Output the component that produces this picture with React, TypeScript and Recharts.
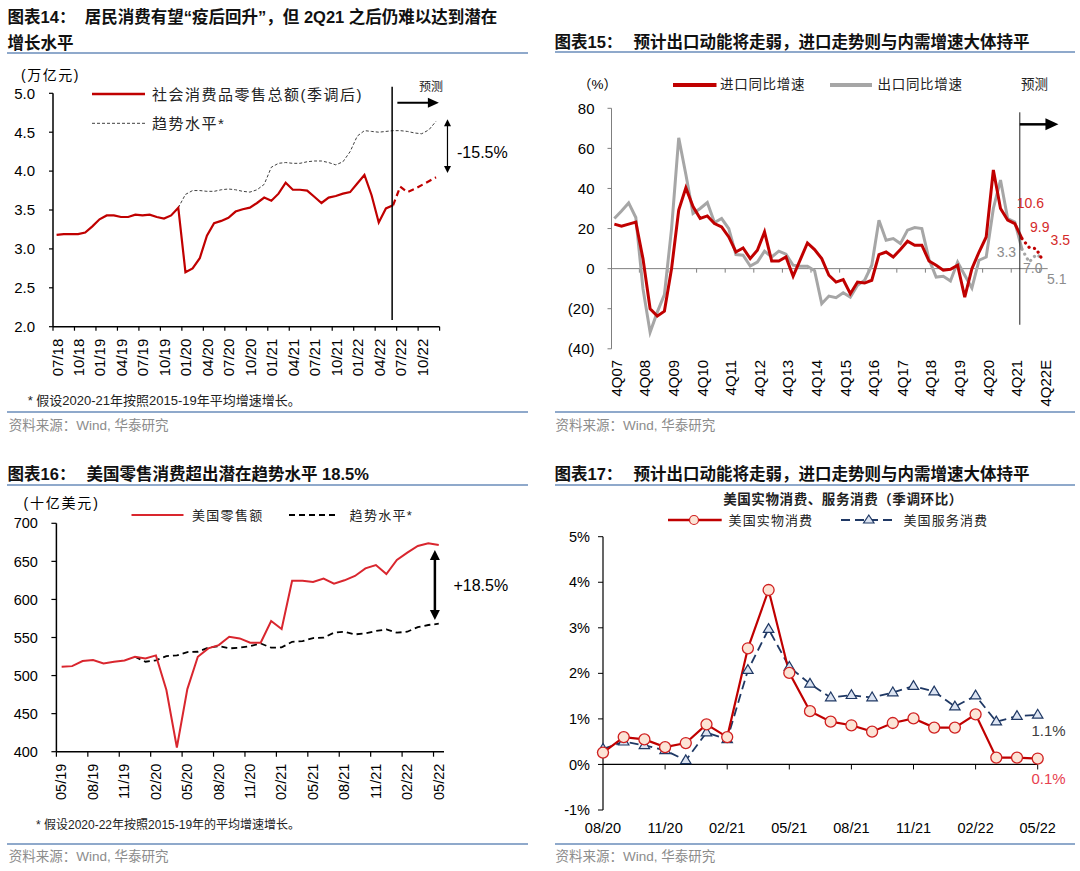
import React from "react";
import { LineChart, Line, XAxis, YAxis, ReferenceLine } from "recharts";

const F = "'Liberation Sans', Arial, 'Noto Sans CJK SC', sans-serif";
const RED = "#C00000";
const BLUE_RULE = "#8FA9CB";

// ---- 图表14 社零 (万亿元), monthly from 07/18
const c14Ticks = ["07/18", "10/18", "01/19", "04/19", "07/19", "10/19", "01/20", "04/20", "07/20", "10/20", "01/21", "04/21", "07/21", "10/21", "01/22", "04/22", "07/22", "10/22"];
const c14Actual = [3.18, 3.19, 3.19, 3.19, 3.21, 3.29, 3.38, 3.43, 3.43, 3.41, 3.41, 3.44, 3.43, 3.44, 3.41, 3.39, 3.43, 3.53, 2.7, 2.75, 2.88, 3.17, 3.33, 3.36, 3.4, 3.48, 3.51, 3.53, 3.59, 3.66, 3.62, 3.71, 3.85, 3.76, 3.76, 3.75, 3.67, 3.59, 3.66, 3.68, 3.71, 3.73, 3.84, 3.95, 3.69, 3.34, 3.52, 3.56];
const c14TrendStart = 17;
const c14Trend = [3.53, 3.7, 3.75, 3.75, 3.74, 3.74, 3.76, 3.77, 3.76, 3.74, 3.73, 3.76, 3.83, 4.05, 4.1, 4.11, 4.1, 4.1, 4.12, 4.13, 4.13, 4.11, 4.08, 4.12, 4.25, 4.45, 4.52, 4.51, 4.5, 4.51, 4.52, 4.52, 4.51, 4.49, 4.48, 4.53, 4.64];
const c14ForecastStart = 47;
const c14Forecast = [3.56, 3.8, 3.73, 3.77, 3.82, 3.87, 3.92];

// ---- 图表15 进出口同比 (%), quarterly from 4Q07
const c15Labels = ["4Q07", "4Q08", "4Q09", "4Q10", "4Q11", "4Q12", "4Q13", "4Q14", "4Q15", "4Q16", "4Q17", "4Q18", "4Q19", "4Q20", "4Q21", "4Q22E"];
const c15Import = [22.2, 21.2, 22.2, 23.2, 5, -20, -23.7, -21.2, 0, 29.2, 40.3, 31, 25, 26.3, 22.5, 20.8, 15.8, 8.3, 10.3, 5, 9.2, 18.3, 3.8, 3.8, 5.8, -3.8, 4.5, 12.8, 9.5, 5, -3.3, -6.7, -5.5, -12.5, -6.7, -7.2, -5.8, 7, 8.3, 5.8, 9.5, 13.7, 11.7, 11.7, 3.8, 1.7, -0.8, -0.3, 1.7, -14.2, 0, 8.3, 15.8, 49.2, 30, 24.2, 22.5, 15];
const c15Export = [25, 28.8, 32.8, 25.5, -10, -31.7, -21.7, -13, 20, 65.3, 47, 27.5, 30, 33, 23, 25, 20, 7, 6.7, 1.3, 3.3, 8.7, 5.8, 8.7, 7.2, 1.7, 1.2, 1.2, -1, -17.5, -13.7, -14.5, -12, -14.2, -8.3, -5.8, 1.7, 24.2, 14.2, 15, 12.5, 19.2, 20.5, 20, 4.7, -4.2, -3.8, -6.2, 3.3, -3.3, -9.7, 4.2, 5.8, 30, 44.2, 25, 23.3, 9.7];
const c15ForecastStart = 57;
const c15ImportF = [15, 10.6, 9.9, 3.5];
const c15ExportF = [9.7, 3.3, 7.0, 5.1];

// ---- 图表16 美国零售额 (十亿美元), monthly from 05/19
const c16Ticks = ["05/19", "08/19", "11/19", "02/20", "05/20", "08/20", "11/20", "02/21", "05/21", "08/21", "11/21", "02/22", "05/22"];
const c16Sales = [511.6, 512.4, 519, 520.3, 516, 518.2, 519.9, 524.7, 522.5, 526.5, 481, 405.5, 482.2, 524.7, 535.7, 540, 551, 548.8, 543.1, 543.1, 571.6, 561.1, 624.6, 624.6, 622.9, 627.3, 620.7, 625.1, 630.8, 640.8, 645.2, 633.4, 651.8, 661.4, 670.2, 673.7, 671.5];
const c16TrendStart = 7;
const c16Trend = [524.7, 518.2, 520, 525.6, 526.5, 530.9, 531.3, 536.6, 538.7, 535.7, 536.6, 538.7, 542.2, 536.6, 537, 544.4, 545.3, 549.3, 549.7, 556.3, 557.6, 554.1, 555.4, 558.5, 560.7, 556.3, 557.6, 563.7, 566.4, 568.1];

// ---- 图表17 美国实物/服务消费 环比 (%), monthly from 08/20
const c17Ticks = ["08/20", "11/20", "02/21", "05/21", "08/21", "11/21", "02/22", "05/22"];
const c17Goods = [0.26, 0.6, 0.55, 0.38, 0.47, 0.88, 0.6, 2.55, 3.83, 2.01, 1.17, 0.94, 0.86, 0.72, 0.91, 1.01, 0.81, 0.81, 1.1, 0.15, 0.15, 0.13];
const c17Services = [0.34, 0.5, 0.42, 0.31, 0.09, 0.7, 0.55, 2.07, 2.97, 2.14, 1.77, 1.47, 1.52, 1.47, 1.58, 1.72, 1.6, 1.27, 1.51, 0.94, 1.06, 1.09];

const c14Data = Array.from({ length: 54 }, (_, i) => ({
  x: i + 0.5,
  actual: i < c14Actual.length ? c14Actual[i] : null,
  trend: i >= c14TrendStart ? c14Trend[i - c14TrendStart] : null,
  forecast: i >= c14ForecastStart ? c14Forecast[i - c14ForecastStart] : null,
}));

const c15Data = Array.from({ length: 61 }, (_, q) => ({
  x: q,
  imp: q < c15Import.length ? c15Import[q] : null,
  exp: q < c15Export.length ? c15Export[q] : null,
  impF: q >= c15ForecastStart ? c15ImportF[q - c15ForecastStart] : null,
  expF: q >= c15ForecastStart ? c15ExportF[q - c15ForecastStart] : null,
}));

const c16Data = c16Sales.map((v, i) => ({
  x: i + 0.5,
  sales: v,
  trend: i >= c16TrendStart ? c16Trend[i - c16TrendStart] : null,
}));

const c17Data = c17Goods.map((g, i) => ({ x: i, goods: g, services: c17Services[i] }));

function RotTick(props: any) {
  const { x, y, payload, labels, step, dx, size } = props;
  const label = labels[Math.round(payload.value / step)];
  if (!label) return <g />;
  return (
    <g transform={`translate(${x + dx},${y})`}>
      <text transform="rotate(-90)" textAnchor="end" dominantBaseline="central" fontSize={size} fontFamily={F} fill="#000">
        {label}
      </text>
    </g>
  );
}

function arrow(head: number, width: number, both: boolean, color: string, lw: number) {
  return (p: any) => {
    const { x1, y1, x2, y2 } = p;
    if ([x1, y1, x2, y2].some((v) => v == null || isNaN(v))) return <g />;
    const len = Math.hypot(x2 - x1, y2 - y1) || 1;
    const ux = (x2 - x1) / len;
    const uy = (y2 - y1) / len;
    const px = -uy;
    const py = ux;
    const headAt = (tx: number, ty: number, dx: number, dy: number) => {
      const bx = tx - dx * head;
      const by = ty - dy * head;
      return `${tx},${ty} ${bx + (px * width) / 2},${by + (py * width) / 2} ${bx - (px * width) / 2},${by - (py * width) / 2}`;
    };
    const sx = both ? x1 + ux * head * 0.8 : x1;
    const sy = both ? y1 + uy * head * 0.8 : y1;
    return (
      <g>
        <line x1={sx} y1={sy} x2={x2 - ux * head * 0.8} y2={y2 - uy * head * 0.8} stroke={color} strokeWidth={lw} />
        <polygon points={headAt(x2, y2, ux, uy)} fill={color} />
        {both && <polygon points={headAt(x1, y1, -ux, -uy)} fill={color} />}
      </g>
    );
  };
}

function Tri(props: any) {
  const { cx, cy, index } = props;
  if (cx == null || cy == null) return <g key={`t${index}`} />;
  const s = 5.5;
  return (
    <polygon
      key={`t${index}`}
      points={`${cx},${cy - s} ${cx - s * 0.95},${cy + s * 0.6} ${cx + s * 0.95},${cy + s * 0.6}`}
      fill="#DCE4F2"
      stroke="#1F3864"
      strokeWidth={1.2}
    />
  );
}

function Txt({ x, y, size = 14, color = "#000", bold = false, mid = false, spacing = 0, children }: any) {
  return (
    <div
      style={{
        position: "absolute",
        left: x,
        top: y,
        transform: mid ? "translate(-50%,-50%)" : "translateY(-50%)",
        fontSize: size,
        color,
        fontWeight: bold ? 700 : 400,
        letterSpacing: spacing,
        whiteSpace: "nowrap",
        lineHeight: 1,
        fontFamily: F,
      }}
    >
      {children}
    </div>
  );
}

function Rule({ x, y, w }: any) {
  return <div style={{ position: "absolute", left: x, top: y - 1, width: w, height: 2, background: BLUE_RULE }} />;
}

const box = (left: number, top: number): React.CSSProperties => ({ position: "absolute", left, top });

const c15YearTicks = Array.from({ length: 15 }, (_, k) => 4 * (k + 1) - 0.5);
const c17ZeroTicks = [3, 6, 9, 12, 15, 18, 21];

export default function App() {
  return (
    <div style={{ position: "absolute", left: 0, top: 0, width: 1080, height: 871, background: "#fff", overflow: "hidden", fontFamily: F }}>
      {/* ---------- 图表14 ---------- */}
      <Txt x={7.6} y={17} size={16.5} bold color="#111">图表14：</Txt>
      <Txt x={84.8} y={17} size={16.5} bold color="#111">居民消费有望“疫后回升”，但 2Q21 之后仍难以达到潜在</Txt>
      <Txt x={7.6} y={43} size={16.5} bold color="#111">增长水平</Txt>
      <Rule x={7} y={52.5} w={521} />
      <Txt x={21} y={75} size={14} spacing={1.5}>(万亿元)</Txt>
      <Txt x={152} y={94} size={15} spacing={1.5} color="#222">社会消费品零售总额(季调后)</Txt>
      <Txt x={152} y={123.3} size={15} spacing={1.5} color="#222">趋势水平*</Txt>
      <Txt x={431} y={86.7} size={12} mid color="#222">预测</Txt>
      <Txt x={457} y={153.3} size={16} color="#000">-15.5%</Txt>
      <div style={box(0, 60)}>
        <LineChart width={540} height={330} data={c14Data} margin={{ top: 33.3, left: 3, right: 100.4, bottom: 13.3 }}>
          <XAxis
            type="number"
            dataKey="x"
            domain={[0, 54]}
            ticks={Array.from({ length: 19 }, (_, k) => k * 3)}
            interval={0}
            height={50}
            axisLine={{ stroke: "#000", strokeWidth: 1.5 }}
            tickLine={{ stroke: "#000", strokeWidth: 1.2 }}
            tickSize={4}
            tickMargin={0}
            tick={(p: any) => <RotTick {...p} y={p.y + 8} labels={c14Ticks} step={3} dx={4} size={15} />}
          />
          <YAxis
            width={50}
            domain={[2, 5]}
            ticks={[2, 2.5, 3, 3.5, 4, 4.5, 5]}
            interval={0}
            tickFormatter={(v: number) => v.toFixed(1)}
            axisLine={{ stroke: "#000", strokeWidth: 1.5 }}
            tickLine={{ stroke: "#000", strokeWidth: 1.2 }}
            tickSize={4}
            tickMargin={14}
            tick={{ fontSize: 15, fill: "#000", fontFamily: F }}
          />
          <Line dataKey="trend" stroke="#404040" strokeWidth={1} strokeDasharray="3 2" dot={false} activeDot={false} isAnimationActive={false} />
          <Line dataKey="actual" stroke={RED} strokeWidth={2.2} dot={false} activeDot={false} isAnimationActive={false} />
          <Line dataKey="forecast" stroke={RED} strokeWidth={2.2} strokeDasharray="6 4" dot={false} activeDot={false} isAnimationActive={false} />
          <ReferenceLine ifOverflow="visible" segment={[{ x: 47.37, y: 5.085 }, { x: 47.37, y: 2.085 }]} stroke="#000" strokeWidth={1.5} />
          <ReferenceLine ifOverflow="visible" segment={[{ x: 48.1, y: 4.88 }, { x: 53.9, y: 4.88 }]} shape={arrow(11, 10, false, "#000", 2)} />
          <ReferenceLine ifOverflow="visible" segment={[{ x: 55.1, y: 4.667 }, { x: 55.1, y: 3.974 }]} shape={arrow(7, 7, true, "#000", 1.2)} />
        </LineChart>
      </div>
      <Txt x={27.7} y={400} size={13} color="#222">* 假设2020-21年按照2015-19年平均增速增长。</Txt>
      <Rule x={7} y={412.3} w={521} />
      <Txt x={8.7} y={425.7} size={13.5} color="#8c8c8c">资料来源：Wind, 华泰研究</Txt>

      {/* ---------- 图表15 ---------- */}
      <Txt x={554.5} y={41.7} size={16.5} bold color="#111">图表15：</Txt>
      <Txt x={633.5} y={41.7} size={16.5} bold color="#111">预计出口动能将走弱，进口走势则与内需增速大体持平</Txt>
      <Rule x={554.5} y={52.3} w={520.5} />
      <Txt x={578} y={85} size={13.5}>（%）</Txt>
      <Txt x={720} y={85} size={13.5} spacing={0.7} color="#222">进口同比增速</Txt>
      <Txt x={877.5} y={85} size={13.5} spacing={0.7} color="#222">出口同比增速</Txt>
      <Txt x={1021} y={85} size={13.5} color="#222">预测</Txt>
      <div style={box(540, 60)}>
        <LineChart width={540} height={352} data={c15Data} margin={{ top: 48.3, left: 21.5, right: 32.3, bottom: 18.2 }}>
          <XAxis
            type="number"
            dataKey="x"
            domain={[-0.4, 60.6]}
            ticks={c15Labels.map((_, k) => k * 4)}
            interval={0}
            height={45}
            axisLine={false}
            tickLine={false}
            tickSize={0}
            tickMargin={0}
            tick={(p: any) => <RotTick {...p} y={p.y + 11} labels={c15Labels} step={4} dx={2} size={15} />}
          />
          <YAxis
            width={50}
            domain={[-40, 80]}
            ticks={[-40, -20, 0, 20, 40, 60, 80]}
            interval={0}
            tickFormatter={(v: number) => (v < 0 ? `(${-v})` : `${v}`)}
            axisLine={{ stroke: "#7f7f7f", strokeWidth: 1 }}
            tickLine={{ stroke: "#7f7f7f", strokeWidth: 1 }}
            tickSize={4}
            tickMargin={13}
            tick={{ fontSize: 15, fill: "#000", fontFamily: F }}
          />
          <ReferenceLine y={0} stroke="#7f7f7f" strokeWidth={1} />
          {c15YearTicks.map((q) => (
            <ReferenceLine key={q} ifOverflow="visible" segment={[{ x: q, y: 0 }, { x: q, y: -2 }]} stroke="#7f7f7f" strokeWidth={1} />
          ))}
          <Line dataKey="exp" stroke="#A6A6A6" strokeWidth={3} dot={false} activeDot={false} isAnimationActive={false} />
          <Line dataKey="imp" stroke={RED} strokeWidth={3} dot={false} activeDot={false} isAnimationActive={false} />
          <Line dataKey="expF" stroke="#A6A6A6" strokeWidth={3.2} strokeDasharray="0.1 5.5" strokeLinecap="round" dot={false} activeDot={false} isAnimationActive={false} />
          <Line dataKey="impF" stroke={RED} strokeWidth={3.2} strokeDasharray="0.1 5.5" strokeLinecap="round" dot={false} activeDot={false} isAnimationActive={false} />
          <ReferenceLine ifOverflow="visible" segment={[{ x: 56.7, y: 78 }, { x: 56.7, y: -28 }]} stroke="#222" strokeWidth={1} />
          <ReferenceLine ifOverflow="visible" segment={[{ x: 56.7, y: 72 }, { x: 62.1, y: 72 }]} shape={arrow(13, 12, false, "#000", 2.5)} />
        </LineChart>
      </div>
      <Txt x={1016.7} y={203.3} size={14} color="#D42A2A">10.6</Txt>
      <Txt x={1030} y={226.7} size={14} color="#D42A2A">9.9</Txt>
      <Txt x={1050.6} y={240} size={14} color="#D42A2A">3.5</Txt>
      <Txt x={996.7} y={251.7} size={14} color="#8c8c8c">3.3</Txt>
      <Txt x={1023} y={268.3} size={14} color="#8c8c8c">7.0</Txt>
      <Txt x={1047} y={279.3} size={14} color="#8c8c8c">5.1</Txt>
      <Rule x={554.5} y={412.3} w={520.5} />
      <Txt x={555.6} y={425.7} size={13.5} color="#8c8c8c">资料来源：Wind, 华泰研究</Txt>

      {/* ---------- 图表16 ---------- */}
      <Txt x={7.6} y={474} size={16.5} bold color="#111">图表16：</Txt>
      <Txt x={86.5} y={474} size={16.5} bold color="#111">美国零售消费超出潜在趋势水平 18.5%</Txt>
      <Rule x={7} y={485} w={521} />
      <Txt x={23.5} y={502.7} size={14} spacing={1.8}>(十亿美元)</Txt>
      <Txt x={192} y={515} size={13} spacing={1.3} color="#222">美国零售额</Txt>
      <Txt x={349.6} y={515} size={13} spacing={1.3} color="#222">趋势水平*</Txt>
      <Txt x={453.4} y={586} size={16} color="#000">+18.5%</Txt>
      <div style={box(0, 490)}>
        <LineChart width={540} height={320} data={c16Data} margin={{ top: 33.3, left: 6.4, right: 96, bottom: 8.3 }}>
          <XAxis
            type="number"
            dataKey="x"
            domain={[0, 37]}
            ticks={c16Ticks.map((_, k) => k * 3)}
            interval={0}
            height={50}
            axisLine={{ stroke: "#000", strokeWidth: 1.5 }}
            tickLine={{ stroke: "#000", strokeWidth: 1.2 }}
            tickSize={5}
            tickMargin={0}
            tick={(p: any) => <RotTick {...p} y={p.y + 7} labels={c16Ticks} step={3} dx={5} size={14.5} />}
          />
          <YAxis
            width={50}
            domain={[400, 700]}
            ticks={[400, 450, 500, 550, 600, 650, 700]}
            interval={0}
            axisLine={{ stroke: "#000", strokeWidth: 1.5 }}
            tickLine={{ stroke: "#000", strokeWidth: 1.2 }}
            tickSize={5}
            tickMargin={13.5}
            tick={{ fontSize: 14.5, fill: "#000", fontFamily: F }}
          />
          <Line dataKey="trend" stroke="#000" strokeWidth={1.8} strokeDasharray="6 4" dot={false} activeDot={false} isAnimationActive={false} />
          <Line dataKey="sales" stroke="#D9262E" strokeWidth={2} dot={false} activeDot={false} isAnimationActive={false} />
          <ReferenceLine ifOverflow="visible" segment={[{ x: 36.13, y: 665 }, { x: 36.13, y: 573 }]} shape={arrow(10, 10, true, "#000", 2.5)} />
        </LineChart>
      </div>
      <Txt x={36} y={825} size={12} color="#222">* 假设2020-22年按照2015-19年的平均增速增长。</Txt>
      <Rule x={7} y={844.3} w={521} />
      <Txt x={8.7} y={856.7} size={13.5} color="#8c8c8c">资料来源：Wind, 华泰研究</Txt>

      {/* ---------- 图表17 ---------- */}
      <Txt x={554.5} y={474} size={16.5} bold color="#111">图表17：</Txt>
      <Txt x={633.5} y={474} size={16.5} bold color="#111">预计出口动能将走弱，进口走势则与内需增速大体持平</Txt>
      <Rule x={554.5} y={485} w={520.5} />
      <Txt x={843} y={500} size={13.5} bold mid spacing={0.6} color="#222">美国实物消费、服务消费（季调环比）</Txt>
      <Txt x={728.6} y={520} size={13} spacing={1.1} color="#222">美国实物消费</Txt>
      <Txt x={903.5} y={520} size={13} spacing={1.1} color="#222">美国服务消费</Txt>
      <div style={box(540, 490)}>
        <LineChart width={540} height={350} data={c17Data} margin={{ top: 46.7, left: 13, right: 42.3, bottom: 0 }}>
          <XAxis
            type="number"
            dataKey="x"
            domain={[0, 21]}
            ticks={c17Ticks.map((_, k) => k * 3)}
            interval={0}
            height={30}
            axisLine={false}
            tickLine={false}
            tickSize={0}
            tickMargin={0}
            tick={(p: any) => (
              <text x={p.x} y={p.y + 17.7} textAnchor="middle" dominantBaseline="central" fontSize={14.5} fontFamily={F} fill="#000">
                {c17Ticks[Math.round(p.payload.value / 3)]}
              </text>
            )}
          />
          <YAxis
            width={50}
            domain={[-1, 5]}
            ticks={[-1, 0, 1, 2, 3, 4, 5]}
            interval={0}
            tickFormatter={(v: number) => `${v}%`}
            axisLine={{ stroke: "#000", strokeWidth: 1.2 }}
            tickLine={{ stroke: "#000", strokeWidth: 1 }}
            tickSize={5}
            tickMargin={8}
            tick={{ fontSize: 14.5, fill: "#000", fontFamily: F }}
          />
          <ReferenceLine y={0} stroke="#000" strokeWidth={1.2} />
          {c17ZeroTicks.map((t) => (
            <ReferenceLine key={t} ifOverflow="visible" segment={[{ x: t, y: 0 }, { x: t, y: -0.11 }]} stroke="#000" strokeWidth={1} />
          ))}
          <Line dataKey="services" stroke="#1F3864" strokeWidth={1.8} strokeDasharray="9 5" dot={Tri} activeDot={false} isAnimationActive={false} />
          <Line dataKey="goods" stroke={RED} strokeWidth={2.2} dot={{ r: 5.5, fill: "#FCE4D6", stroke: "#D02020", strokeWidth: 1.3 }} activeDot={false} isAnimationActive={false} />
        </LineChart>
      </div>
      <Txt x={1031.5} y={730} size={15} color="#404040">1.1%</Txt>
      <Txt x={1031.5} y={778.3} size={15} color="#E8404F">0.1%</Txt>
      <Rule x={554.5} y={844.3} w={520.5} />
      <Txt x={555.6} y={856.7} size={13.5} color="#8c8c8c">资料来源：Wind, 华泰研究</Txt>

      {/* legend symbols */}
      <svg width={1080} height={871} style={{ position: "absolute", left: 0, top: 0, pointerEvents: "none" }}>
        <line x1={92} y1={94} x2={145} y2={94} stroke={RED} strokeWidth={2.5} />
        <line x1={92} y1={123.3} x2={145} y2={123.3} stroke="#404040" strokeWidth={1} strokeDasharray="3 2" />
        <line x1={673} y1={85} x2={716.5} y2={85} stroke={RED} strokeWidth={4} />
        <line x1={830} y1={85} x2={872} y2={85} stroke="#A6A6A6" strokeWidth={4} />
        <line x1={131.5} y1={515} x2={183.5} y2={515} stroke="#D9262E" strokeWidth={2} />
        <line x1={289} y1={515} x2={337.5} y2={515} stroke="#000" strokeWidth={2} strokeDasharray="6 4" />
        <line x1={668} y1={520} x2={721.7} y2={520} stroke={RED} strokeWidth={2.5} />
        <circle cx={694} cy={520} r={4.5} fill="#FCE4D6" stroke="#D02020" strokeWidth={1.2} />
        <line x1={841} y1={520} x2={896.5} y2={520} stroke="#1F3864" strokeWidth={2} strokeDasharray="9 5" />
        <polygon points="868.8,515 863.6,523 874,523" fill="#DCE4F2" stroke="#1F3864" strokeWidth={1.2} />
      </svg>
    </div>
  );
}
